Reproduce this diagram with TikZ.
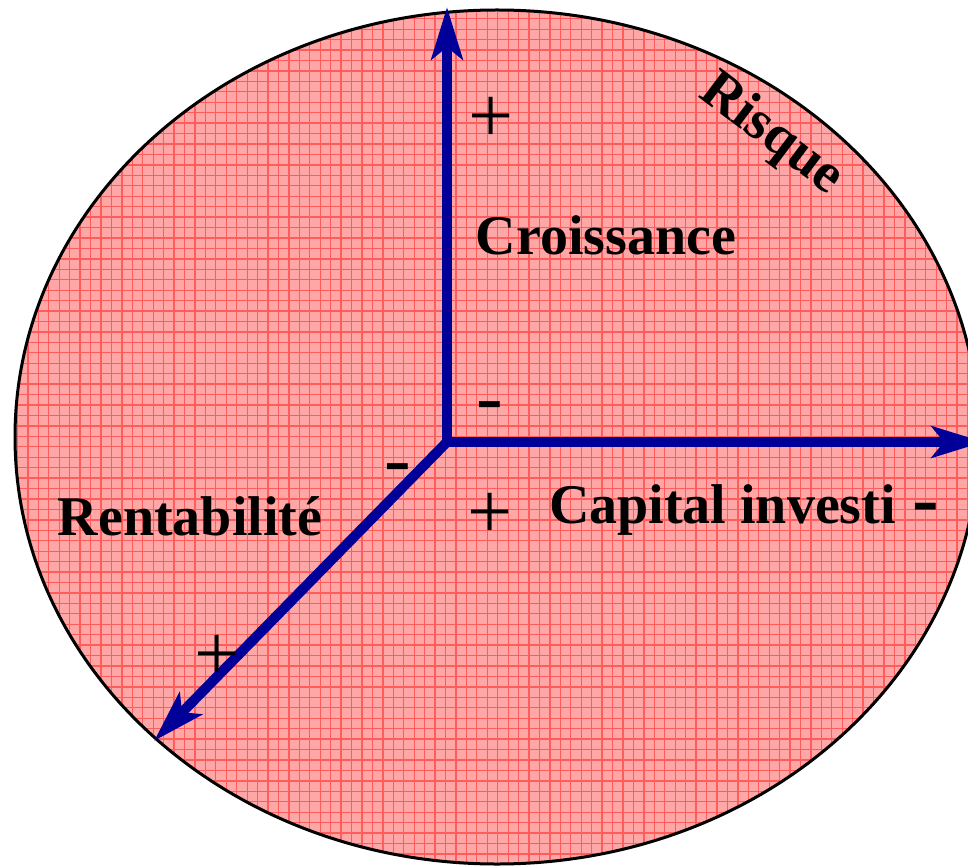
\documentclass[tikz,border=0pt]{standalone}
\usepackage{fontspec}
\setmainfont{Liberation Serif}
\usetikzlibrary{arrows.meta}
\definecolor{axisblue}{RGB}{0,0,153}
\definecolor{pinkfill}{RGB}{255,166,166}
\definecolor{gridred}{RGB}{255,92,92}
\begin{document}
\begin{tikzpicture}[x=1pt,y=-1pt,
  axis/.style={line width=10pt, axisblue, -{Stealth[length=52pt,width=31pt,inset=12pt]}},
  lbl/.style={font=\fontsize{56}{60}\selectfont\bfseries, inner sep=0pt, anchor=base},
  sgn/.style={font=\fontsize{80}{80}\selectfont, inner sep=0pt, anchor=base},
  bsgn/.style={font=\fontsize{80}{80}\selectfont\bfseries, inner sep=0pt, anchor=base},
  gridln/.style={gridred, line width=1.3pt}]
\useasboundingbox (0,0) rectangle (968,866);
\begin{scope}
  \clip (497,437) ellipse [x radius=482, y radius=427];
  \fill[pinkfill] (0,0) rectangle (1000,880);
  \foreach \i in {0,...,95} {\draw[gridln] ({7.04+10.44*\i},0) -- ++(0,880);}
  \foreach \i in {0,...,85} {\draw[gridln] (0,{8.3+10.44*\i}) -- ++(1000,0);}
\end{scope}
\draw[line width=3pt] (497,437) ellipse [x radius=482, y radius=427];

\coordinate (O) at (447,442);
\coordinate (Yt) at (447,7);
\coordinate (Xt) at (984,442);
\coordinate (Dt) at (154,741);
\draw[axis] (O) -- (Yt);
\draw[axis] (O) -- (Xt);
\draw[axis] (O) -- (Dt);

\node[lbl] (croiss) at (606,255) {Croissance};
\node[lbl] (rent) at (190,535) {Rentabilité};
\node[lbl] (cap) at (722.5,523) {Capital investi};
\node[font=\fontsize{56}{60}\selectfont\bfseries, inner sep=0pt, rotate=-37] (risk) at (771,135) {Risque};

\node[sgn] (p1) at (491,142.6) {+};
\node[sgn] (p2) at (490,538) {+};
\node[sgn] (p3) at (217,680) {+};
\node[sgn] (m1) at (490,423) {-};
\node[sgn] (m2) at (398,485) {-};
\node[bsgn] (m3) at (926,525) {-};
\end{tikzpicture}
\end{document}
